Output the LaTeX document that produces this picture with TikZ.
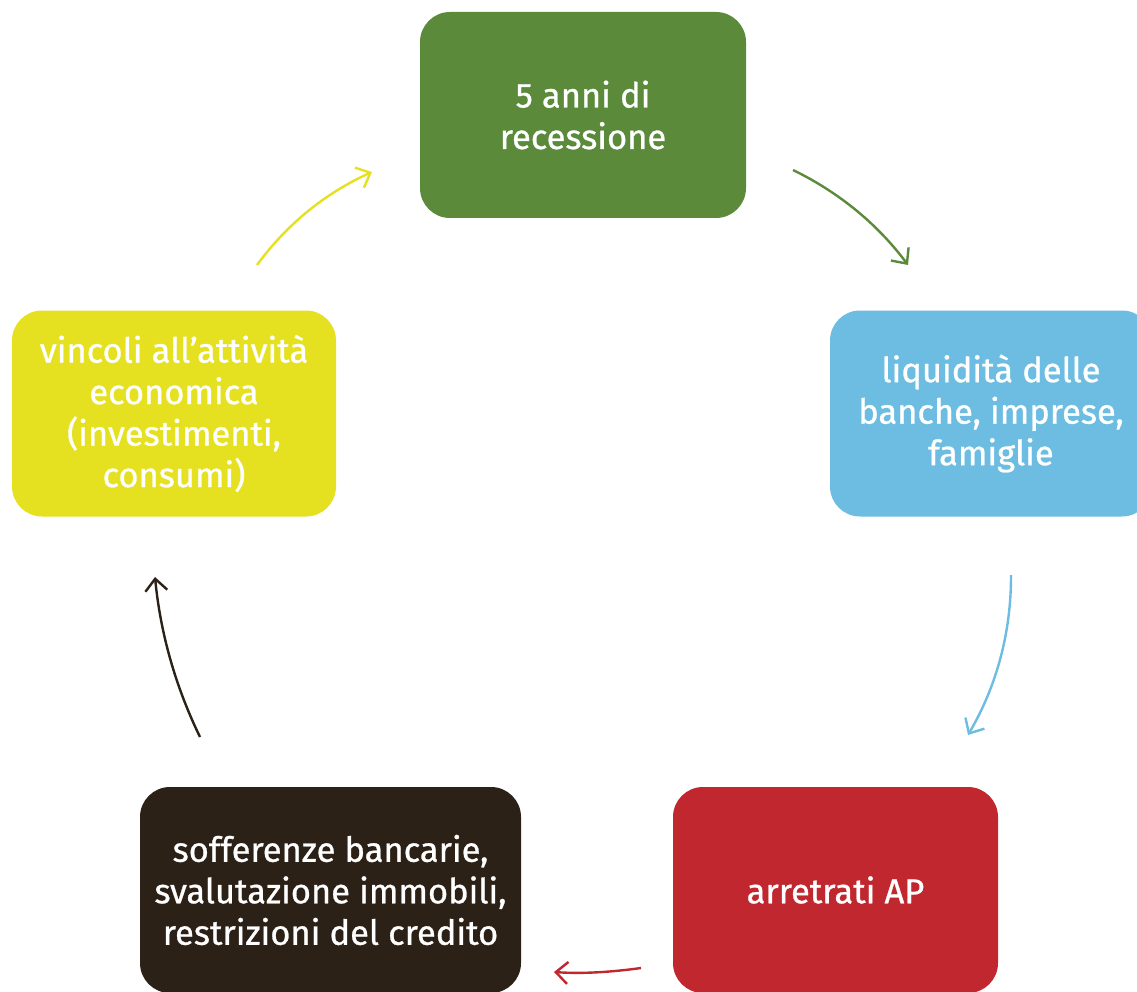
\documentclass[tikz,border=0pt]{standalone}
\usepackage{fontspec}
\setmainfont{Fira Sans}
\newfontfamily\boxfont{Fira Sans}[FakeBold=0.8]
\usetikzlibrary{arrows.meta}
\definecolor{cgreen}{RGB}{91,138,58}
\definecolor{cblue}{RGB}{108,189,225}
\definecolor{cyellow}{RGB}{229,225,32}
\definecolor{cred}{RGB}{193,39,46}
\definecolor{cdark}{RGB}{43,33,23}
\begin{document}
\begin{tikzpicture}[x=1pt,y=-1pt,
  box/.style={rounded corners=30pt, minimum height=206pt, text=white, align=center,
    font=\boxfont\fontsize{34.5}{41.5}\selectfont, inner sep=0pt},
  conn/.style={line width=2.4pt, -{Straight Barb[length=12pt,width=22pt]}}]
\useasboundingbox (0,0) rectangle (1137,992);
\node[box, fill=cgreen, minimum width=326pt] (rec) at (583,115) {5 anni di\\recessione};
\node[box, fill=cblue, minimum width=322pt] (liq) at (991,413.5) {liquidità delle\\banche, imprese,\\famiglie};
\node[box, fill=cyellow, minimum width=324pt] (vin) at (174,413.5) {vincoli all’attività\\economica\\(investimenti,\\consumi)};
\node[box, fill=cred, minimum width=325pt] (arp) at (835.5,890) {arretrati AP};
\node[box, fill=cdark, minimum width=381pt] (sof) at (330.5,890) {sofferenze bancarie,\\svalutazione immobili,\\restrizioni del credito};
\coordinate (ys) at (257,265); \coordinate (ye) at (372,172);
\coordinate (gs) at (793,170); \coordinate (ge) at (908,265);
\coordinate (bs) at (1011,575); \coordinate (be) at (968,735);
\coordinate (rs) at (641,968); \coordinate (re) at (554,972);
\coordinate (ds) at (200,737); \coordinate (de) at (155,577);
\draw[conn, cyellow] (ys) .. controls (287,224) and (325.5,193) .. (ye);
\draw[conn, cgreen] (gs) .. controls (839,192.4) and (877.4,224) .. (ge);
\draw[conn, cblue] (bs) .. controls (1011.2,632.2) and (996.8,685.6) .. (be);
\draw[conn, cred] (rs) .. controls (612,972) and (583,974) .. (re);
\draw[conn, cdark] (ds) .. controls (175.4,686.4) and (160.4,633) .. (de);
\end{tikzpicture}
\end{document}
